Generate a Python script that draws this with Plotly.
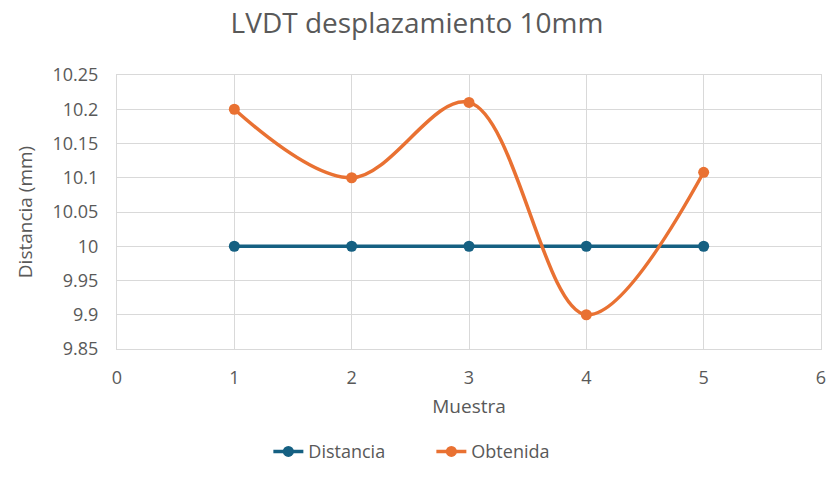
import plotly.graph_objects as go

# Sample numbers and measured displacement values (mm)
muestra = [1, 2, 3, 4, 5]
distancia = [10, 10, 10, 10, 10]
obtenida = [10.2, 10.1, 10.21, 9.9, 10.108]

y_ticks = [9.85, 9.9, 9.95, 10, 10.05, 10.1, 10.15, 10.2, 10.25]
x_ticks = [0, 1, 2, 3, 4, 5, 6]

text_color = "#595959"
grid_color = "#d9d9d9"
font_family = "Open Sans, Liberation Sans, sans-serif"

fig = go.Figure()
fig.add_trace(go.Scatter(
    x=muestra, y=distancia, name="Distancia", mode="lines+markers",
    line=dict(color="#156082", width=3.5),
    marker=dict(size=11, color="#156082"),
))
fig.add_trace(go.Scatter(
    x=muestra, y=obtenida, name="Obtenida", mode="lines+markers",
    line=dict(color="#E97132", width=3.5, shape="spline", smoothing=1),
    marker=dict(size=11, color="#E97132"),
))

fig.update_layout(
    width=834, height=492,
    margin=dict(l=117, r=8, t=75, b=143),
    paper_bgcolor="white", plot_bgcolor="white",
    font=dict(family=font_family, color=text_color, size=18),
    title=dict(text="LVDT desplazamiento 10mm", x=0.5, xanchor="center",
               y=0.952, yanchor="middle",
               font=dict(size=28, color=text_color)),
    legend=dict(orientation="h", x=0.215, xanchor="left", y=-0.375, yanchor="middle",
                font=dict(size=18, color=text_color), entrywidth=118,
                entrywidthmode="pixels"),
    xaxis=dict(
        range=[0, 6], tickvals=x_ticks, ticktext=[str(v) for v in x_ticks],
        showgrid=True, gridcolor=grid_color, gridwidth=1,
        showline=True, linecolor=grid_color, mirror=True, zeroline=False,
        ticks="", ticklen=0, ticklabelstandoff=12,
        title=dict(text="Muestra", font=dict(size=19, color=text_color), standoff=12),
        tickfont=dict(size=18, color=text_color),
    ),
    yaxis=dict(
        range=[9.85, 10.25], tickvals=y_ticks, ticktext=[f"{v:g}" for v in y_ticks],
        showgrid=True, gridcolor=grid_color, gridwidth=1,
        showline=True, linecolor=grid_color, mirror=True, zeroline=False,
        ticks="", ticklen=0, ticklabelstandoff=14,
        title=dict(text="Distancia (mm)", font=dict(size=19, color=text_color), standoff=14),
        tickfont=dict(size=18, color=text_color),
    ),
)

fig.write_html("out.html")
